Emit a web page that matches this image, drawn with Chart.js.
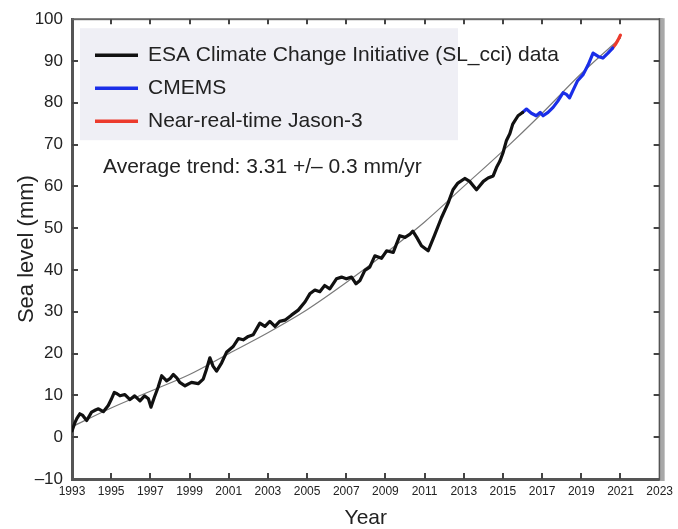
<!DOCTYPE html>
<html>
<head>
<meta charset="utf-8">
<script src="https://cdn.jsdelivr.net/npm/chart.js@4.4.0/dist/chart.umd.min.js"></script>
<style>
  html, body { margin: 0; padding: 0; background: #fff; }
</style>
</head>
<body>
<canvas id="grafico" width="678" height="529"></canvas>
<script>
// dados (anos decimais, nivel do mar em mm)
const esaYears = [1993.0, 1993.15, 1993.25, 1993.4, 1993.55, 1993.75, 1994.0, 1994.2, 1994.35, 1994.6, 1994.85,
  1995.0, 1995.16, 1995.3, 1995.45, 1995.7, 1995.96, 1996.2, 1996.47, 1996.7, 1996.9, 1997.03, 1997.2, 1997.4,
  1997.58, 1997.83, 1998.0, 1998.17, 1998.35, 1998.5, 1998.77, 1999.1, 1999.44, 1999.7, 1999.85, 2000.04, 2000.2,
  2000.38, 2000.64, 2000.9, 2001.23, 2001.49, 2001.74, 2002.0, 2002.25, 2002.59, 2002.85, 2003.1, 2003.36, 2003.6,
  2003.87, 2004.2, 2004.55, 2004.9, 2005.14, 2005.4, 2005.65, 2005.9, 2006.16, 2006.5, 2006.76, 2007.0, 2007.27,
  2007.5, 2007.7, 2007.95, 2008.2, 2008.46, 2008.8, 2009.06, 2009.4, 2009.73, 2010.0, 2010.24, 2010.4, 2010.6,
  2010.84, 2011.18, 2011.5, 2011.86, 2012.2, 2012.45, 2012.7, 2013.05, 2013.3, 2013.65, 2014.0, 2014.24, 2014.5,
  2014.67, 2014.84, 2015.0, 2015.18, 2015.35, 2015.5, 2015.77, 2016.0];
const esaLevels = [1.5, 3.5, 4.5, 5.6, 5.2, 4.0, 6.0, 6.5, 6.8, 6.1, 7.6,
  9.0, 10.7, 10.4, 9.9, 10.2, 9.0, 9.9, 8.7, 9.9, 9.2, 7.2, 9.5, 12.0,
  14.7, 13.5, 14.0, 15.0, 14.2, 13.1, 12.3, 13.1, 12.8, 13.9, 16.0, 19.0, 17.0,
  15.8, 17.8, 20.4, 21.7, 23.6, 23.3, 24.1, 24.5, 27.3, 26.5, 27.7, 26.5, 27.7,
  28.0, 29.2, 30.4, 32.4, 34.3, 35.2, 34.8, 36.3, 35.5, 37.9, 38.3, 37.9, 38.3,
  36.7, 37.5, 39.9, 40.7, 43.4, 42.8, 44.6, 44.2, 48.2, 47.8, 48.5, 49.3, 47.8,
  45.8, 44.6, 48.2, 52.5, 56.0, 59.2, 60.8, 61.9, 61.2, 59.2, 61.2, 62.0, 62.5,
  64.5, 66.0, 68.0, 71.0, 72.6, 74.9, 76.9, 77.7];

const cmemsYears = [2016.0, 2016.2, 2016.45, 2016.7, 2016.9, 2017.05, 2017.3, 2017.56, 2017.8, 2018.07, 2018.24,
  2018.4, 2018.6, 2018.8, 2019.1, 2019.35, 2019.6, 2019.86, 2020.1, 2020.36, 2020.6];
const cmemsLevels = [77.7, 78.5, 77.5, 76.9, 77.7, 76.9, 77.7, 78.9, 80.4, 82.4, 82.0,
  81.2, 83.2, 85.2, 86.8, 89.1, 91.9, 91.1, 90.7, 91.9, 93.1];

const jasonYears = [2020.6, 2020.75, 2020.87, 2021.0];
const jasonLevels = [93.1, 94.0, 95.0, 96.2];

const trendYears = [1993, 1995, 1997, 1999, 2001, 2003, 2005, 2007, 2009, 2011, 2013, 2015, 2017, 2019, 2021];
const trendLevels = [2.5, 7, 11, 15, 20, 25, 30.5, 37, 44, 51.5, 60, 68.5, 77.5, 87, 95.5];

const tickYears = [1993, 1995, 1997, 1999, 2001, 2003, 2005, 2007, 2009, 2011, 2013, 2015, 2017, 2019, 2021, 2023];
const seaTicks = [-10, 0, 10, 20, 30, 40, 50, 60, 70, 80, 90, 100];

const legendas = ['ESA Climate Change Initiative (SL_cci) data', 'CMEMS', 'Near-real-time Jason-3'];
const textoTendencia = 'Average trend: 3.31 +/\u2013 0.3 mm/yr';

function pontos(xs, ys) {
    return xs.map((x, i) => ({ x: x, y: ys[i] }));
}

// moldura, marcas internas, legenda e texto
const decoracao = {
    id: 'decoracao',
    beforeDatasetsDraw(chart) {
        const ctx = chart.ctx;
        const a = chart.chartArea;
        ctx.save();
        ctx.fillStyle = '#efeff5';
        ctx.fillRect(a.left + 8, a.top + 9, 378, 112);
        ctx.restore();
    },
    afterDraw(chart) {
        const ctx = chart.ctx;
        const a = chart.chartArea;
        const sx = chart.scales.x;
        const sy = chart.scales.y;
        ctx.save();
        // borda de cima e da direita
        ctx.fillStyle = '#666';
        ctx.fillRect(a.left, a.top - 1, a.right - a.left + 3, 2);
        ctx.fillStyle = '#a8a8a8';
        ctx.fillRect(a.right, a.top - 1, 5, a.bottom - a.top + 3);
        ctx.fillStyle = '#555';
        ctx.fillRect(a.right - 1, a.top - 1, 1.5, a.bottom - a.top + 2);

        // marcas para dentro
        ctx.strokeStyle = '#444';
        ctx.lineWidth = 2;
        ctx.beginPath();
        tickYears.forEach(v => {
            const px = Math.round(sx.getPixelForValue(v));
            if (v > 1993 && v < 2023) {
                ctx.moveTo(px, a.bottom); ctx.lineTo(px, a.bottom - 6);
                ctx.moveTo(px, a.top); ctx.lineTo(px, a.top + 5);
            }
        });
        seaTicks.forEach(v => {
            const py = Math.round(sy.getPixelForValue(v));
            if (v > -10 && v < 100) {
                ctx.moveTo(a.left, py); ctx.lineTo(a.left + 6, py);
                ctx.moveTo(a.right, py); ctx.lineTo(a.right - 6, py);
            }
        });
        ctx.stroke();

        // legenda
        const cores = chart.data.datasets.slice(0, 3).map(d => d.borderColor);
        ctx.font = '21px "Liberation Sans", Arial, sans-serif';
        ctx.textBaseline = 'middle';
        ctx.textAlign = 'left';
        legendas.forEach((txt, i) => {
            const y = a.top + 36 + i * 33;
            ctx.strokeStyle = cores[i];
            ctx.lineWidth = 3.5;
            ctx.beginPath();
            ctx.moveTo(a.left + 23, y);
            ctx.lineTo(a.left + 66, y);
            ctx.stroke();
            ctx.fillStyle = '#222';
            ctx.fillText(txt, a.left + 76, y);
        });
        ctx.fillText(textoTendencia, a.left + 31, a.top + 148);
        ctx.restore();
    }
};

Chart.defaults.font.family = '"Liberation Sans", Arial, sans-serif';

const ctx = document.getElementById('grafico');

new Chart(ctx, {
    type: 'line',
    data: {
        datasets: [{
            label: legendas[0],
            data: pontos(esaYears, esaLevels),
            borderColor: '#111',
            borderWidth: 3.2
        }, {
            label: legendas[1],
            data: pontos(cmemsYears, cmemsLevels),
            borderColor: '#1a2ee8',
            borderWidth: 3.2
        }, {
            label: legendas[2],
            data: pontos(jasonYears, jasonLevels),
            borderColor: '#ec3a2c',
            borderWidth: 3.2
        }, {
            label: 'trend',
            data: pontos(trendYears, trendLevels),
            borderColor: '#7a7a7a',
            borderWidth: 1.2,
            cubicInterpolationMode: 'monotone'
        }]
    },
    options: {
        responsive: false,
        animation: false,
        layout: { padding: { top: 14, right: 18, left: 0, bottom: 0 } },
        plugins: {
            legend: { display: false },
            tooltip: { enabled: false }
        },
        elements: {
            point: { radius: 0 },
            line: { borderJoinStyle: 'round', borderCapStyle: 'round', tension: 0 }
        },
        scales: {
            x: {
                type: 'linear',
                min: 1993,
                max: 2023,
                afterFit: s => { s.height = 50; },
                afterBuildTicks: s => { s.ticks = tickYears.map(v => ({ value: v })); },
                ticks: {
                    callback: v => String(v),
                    padding: 5,
                    autoSkip: false,
                    maxRotation: 0,
                    color: '#222',
                    font: { size: 12 }
                },
                grid: { drawOnChartArea: false, drawTicks: false },
                border: { color: '#555', width: 3 },
                title: { display: true, text: 'Year', color: '#222', font: { size: 21 }, padding: { top: 0, bottom: -2 } }
            },
            y: {
                min: -10,
                max: 100,
                afterFit: s => { s.width = 72; },
                afterBuildTicks: s => { s.ticks = seaTicks.map(v => ({ value: v })); },
                ticks: {
                    callback: v => v < 0 ? '\u2013' + Math.abs(v) : String(v),
                    padding: 9,
                    color: '#222',
                    font: { size: 17 }
                },
                grid: { drawOnChartArea: false, drawTicks: false },
                border: { color: '#555', width: 3 },
                title: { display: true, text: 'Sea level (mm)', color: '#222', font: { size: 22 }, padding: { top: 14, bottom: 0 } }
            }
        }
    },
    plugins: [decoracao]
});
</script>
</body>
</html>
